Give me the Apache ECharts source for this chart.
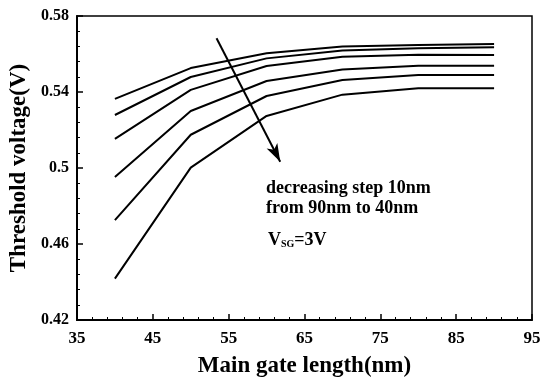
<!DOCTYPE html>
<html>
<head>
<meta charset="utf-8">
<script src="https://cdn.jsdelivr.net/npm/echarts@6/dist/echarts.min.js"></script>
<style>
html,body{margin:0;padding:0;background:#fff;}
#chart{width:551px;height:380px;}
</style>
</head>
<body>
<div id="chart"></div>
<script>
// gate length (nm)
var gateLength = [40, 50, 60, 70, 80, 90];
// threshold voltage per main gate length, 90nm down to 40nm
var vt90 = [0.5364, 0.5526, 0.5604, 0.5640, 0.5648, 0.5652];
var vt80 = [0.5279, 0.5479, 0.5577, 0.5618, 0.5630, 0.5635];
var vt70 = [0.5153, 0.5411, 0.5537, 0.5586, 0.5596, 0.5595];
var vt60 = [0.4952, 0.5300, 0.5458, 0.5519, 0.5538, 0.5538];
var vt50 = [0.4726, 0.5175, 0.5379, 0.5463, 0.5489, 0.5490];
var vt40 = [0.4418, 0.5002, 0.5274, 0.5386, 0.5420, 0.5420];
var seriesNames = ['90nm', '80nm', '70nm', '60nm', '50nm', '40nm'];
var seriesData = [vt90, vt80, vt70, vt60, vt50, vt40];
// arrow annotation, data coords
var arrowFrom = [53.4, 0.5683];
var arrowTo = [61.8, 0.5033];

var font = 'Liberation Serif';

function pairs(ys){
	var out = [];
	for(var i=0;i<gateLength.length;i++){
		out.push([gateLength[i], ys[i]]);
	}
	return out;
}

var series = [];
for(var i=0;i<seriesData.length;i++){
	series.push({
		name: seriesNames[i],
		type: 'line',
		data: pairs(seriesData[i]),
		showSymbol: false,
		lineStyle: {color: '#000', width: 2},
		silent: true
	});
}
// arrow
series[0].markLine = {
	silent: true,
	symbol: ['none', 'arrow'],
	symbolSize: [9, 18],
	label: {show: false},
	lineStyle: {color: '#000', width: 2, type: 'solid'},
	data: [[{coord: arrowFrom}, {coord: arrowTo}]]
};

var chart = echarts.init(document.getElementById('chart'));
var option = {
	animation: false,
	grid: {
		left: 77, right: 19, top: 16, bottom: 60,
		outerBoundsMode: 'none',
		containLabel: false,
		show: true, borderColor: '#000', borderWidth: 1.5
	},
	xAxis: {
		type: 'value',
		min: 35, max: 95, interval: 10,
		name: 'Main gate length(nm)',
		nameLocation: 'middle',
		nameGap: 35,
		nameTextStyle: {fontFamily: font, fontWeight: 'bold', fontSize: 23, color: '#000'},
		axisLine: {lineStyle: {color: '#000', width: 2}},
		axisTick: {inside: true, length: 6, lineStyle: {color: '#000', width: 1.5}},
		minorTick: {show: true, splitNumber: 5, length: 3, lineStyle: {color: '#000', width: 1}},
		splitLine: {show: false},
		axisLabel: {fontFamily: font, fontWeight: 'bold', fontSize: 17, color: '#000', margin: 10}
	},
	yAxis: {
		type: 'value',
		min: 0.42, max: 0.58, interval: 0.04,
		name: 'Threshold voltage(V)',
		nameLocation: 'middle',
		nameGap: 45,
		nameTextStyle: {fontFamily: font, fontWeight: 'bold', fontSize: 23, color: '#000'},
		axisLine: {lineStyle: {color: '#000', width: 2}},
		axisTick: {inside: true, length: 6, lineStyle: {color: '#000', width: 1.5}},
		minorTick: {show: true, splitNumber: 5, length: 3, lineStyle: {color: '#000', width: 1}},
		splitLine: {show: false},
		axisLabel: {
			fontFamily: font, fontWeight: 'bold', fontSize: 16, color: '#000', margin: 8,
			formatter: function(v){ return String(parseFloat(v.toFixed(2))); }
		}
	},
	graphic: [{
		type: 'text',
		left: 266, top: 178,
		style: {
			text: 'decreasing step 10nm\nfrom 90nm to 40nm',
			font: 'bold 18px "Liberation Serif"',
			fill: '#000',
			lineHeight: 20
		}
	},{
		type: 'text',
		left: 268, top: 231,
		style: {
			text: '{a|V}{b|SG}{a|=3V}',
			fill: '#000',
			rich: {
				a: {fontFamily: font, fontWeight: 'bold', fontSize: 18, fill: '#000'},
				b: {fontFamily: font, fontWeight: 'bold', fontSize: 10, fill: '#000', padding: [9, 0, 0, 0]}
			}
		}
	}],
	series: series
};
chart.setOption(option);
</script>
</body>
</html>
